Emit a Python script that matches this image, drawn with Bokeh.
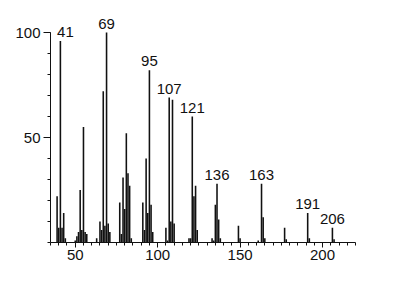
from bokeh.plotting import figure
from bokeh.models import ColumnDataSource, Range1d, FixedTicker
from bokeh.core.properties import value
from bokeh.embed import file_html
from bokeh.resources import INLINE

# m/z values and relative intensities (%)
mz = [39, 40, 41, 42, 43, 44,
      50, 51, 52, 53, 54, 55, 56, 57,
      63, 65, 66, 67, 68, 69, 70, 71,
      77, 78, 79, 80, 81, 82, 83, 84,
      91, 92, 93, 94, 95, 96, 97,
      105, 106, 107, 108, 109, 110,
      119, 120, 121, 122, 123, 124,
      133, 134, 135, 136, 137, 138,
      149, 150,
      161, 163, 164, 165,
      177, 178,
      191, 192,
      206, 207]
intensity = [22, 7, 96, 7, 14, 2,
             1, 3, 5, 25, 6, 55, 5, 4,
             2, 10, 6, 72, 8, 100, 9, 5,
             19, 4, 31, 16, 52, 33, 27, 2,
             19, 6, 40, 14, 82, 18, 5,
             7, 1, 69, 10, 68, 9,
             2, 2, 60, 22, 27, 6,
             2, 1, 18, 28, 11, 2,
             8, 2,
             1, 28, 12, 2,
             7, 1.5,
             14, 2,
             7, 1.5]

# labelled peaks
label_mz = [41, 69, 95, 107, 121, 136, 163, 191, 206]
label_text = ["41", "69", "95", "107", "121", "136", "163", "191", "206"]

x_ticks = [50, 100, 150, 200]
y_ticks = [50, 100]

lookup = dict(zip(mz, intensity))
label_y = [lookup[m] for m in label_mz]
label_dx = [5 if t == "41" else 0 for t in label_text]

p = figure(width=413, height=288, output_backend="svg", toolbar_location=None,
           x_range=Range1d(35, 220), y_range=Range1d(0, 110),
           min_border_left=50, min_border_right=58, min_border_top=11,
           min_border_bottom=46)
p.outline_line_color = None
p.xgrid.visible = False
p.ygrid.visible = False
p.background_fill_color = "white"
p.border_fill_color = "white"

bars = ColumnDataSource(dict(x=mz, top=intensity))
p.vbar(x="x", top="top", bottom=0, width=0.95, source=bars,
       fill_color="#111111", line_color=None)

labels = ColumnDataSource(dict(x=label_mz, y=label_y, t=label_text, dx=label_dx))
p.text(x="x", y="y", text="t", x_offset="dx", source=labels, y_offset=-9,
       text_align="center", text_baseline="alphabetic",
       text_font=value("Liberation Sans"), text_font_size="15px",
       text_color="#111111")

font = "Liberation Sans"
xa = p.xaxis[0]
xa.ticker = FixedTicker(ticks=x_ticks, minor_ticks=list(range(35, 221, 5)))
xa.major_tick_in = 0
xa.major_tick_out = 5
xa.minor_tick_in = 0
xa.minor_tick_out = 3
xa.major_label_standoff = 2
xa.major_label_text_font = font
xa.major_label_text_font_size = "15px"
xa.major_label_text_color = "#111111"
xa.axis_line_color = "#111111"
xa.major_tick_line_color = "#111111"
xa.minor_tick_line_color = "#111111"

ya = p.yaxis[0]
ya.bounds = (0, 100)
ya.ticker = FixedTicker(ticks=y_ticks, minor_ticks=list(range(0, 101, 10)))
ya.major_tick_in = 0
ya.major_tick_out = 7
ya.minor_tick_in = 0
ya.minor_tick_out = 3
ya.major_label_standoff = 3
ya.major_label_text_font = font
ya.major_label_text_font_size = "15px"
ya.major_label_text_color = "#111111"
ya.axis_line_color = "#111111"
ya.major_tick_line_color = "#111111"
ya.minor_tick_line_color = "#111111"

open("out.html", "w").write(file_html(p, INLINE))
